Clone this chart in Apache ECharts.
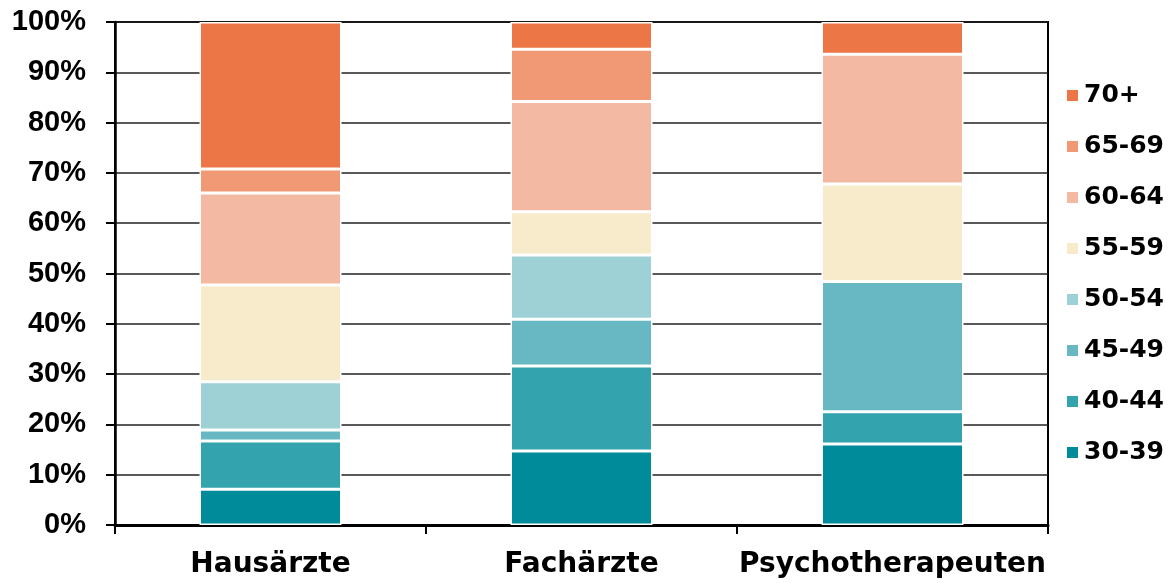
<!DOCTYPE html>
<html>
<head>
<meta charset="utf-8">
<script src="https://cdn.jsdelivr.net/npm/echarts@6/dist/echarts.min.js"></script>
<style>
  html, body { margin: 0; padding: 0; background: #fff; }
  #chart { width: 1171px; height: 583px; }
</style>
</head>
<body>
<div id="chart"></div>
<script>
// Kategorien und Altersgruppen
var categories = ["Hausärzte", "Fachärzte", "Psychotherapeuten"];
var ageGroups = ["30-39", "40-44", "45-49", "50-54", "55-59", "60-64", "65-69", "70+"];
var colors = ["#008B9A", "#33A3AE", "#67B8C2", "#9DD1D6", "#F7EBCC", "#F4B9A2", "#F19875", "#EC7645"];

// Anteile in %, je Altersgruppe: [Hausärzte, Fachärzte, Psychotherapeuten]
var v30_39 = [7.1, 14.7, 16.1];
var v40_44 = [9.6, 16.9, 6.4];
var v45_49 = [2.2, 9.3, 25.9];
var v50_54 = [9.6, 12.8, 0];
var v55_59 = [19.2, 8.6, 19.4];
var v60_64 = [18.3, 21.9, 25.8];
var v65_69 = [4.8, 10.4, 0];
var v70plus = [29.2, 5.4, 6.4];

var values = [v30_39, v40_44, v45_49, v50_54, v55_59, v60_64, v65_69, v70plus];

var series = ageGroups.map(function (name, i) {
  return {
    name: name,
    type: "bar",
    stack: "total",
    barWidth: 142,
    data: values[i],
    itemStyle: {
      color: colors[i],
      borderColor: "#fff",
      borderWidth: 1.5
    }
  };
});

var myChart = echarts.init(document.getElementById("chart"));
myChart.setOption({
  backgroundColor: "#fff",
  animation: false,
  grid: {
    left: 115,
    right: 123,
    top: 22,
    bottom: 58,
    show: true,
    borderColor: "#000",
    borderWidth: 2
  },
  legend: {
    orient: "vertical",
    left: 1060,
    top: 78,
    itemWidth: 13,
    itemHeight: 13,
    itemGap: 26,
    icon: "rect",
    data: ageGroups.slice().reverse(),
    textStyle: {
      fontFamily: "DejaVu Sans",
      fontWeight: "bold",
      fontSize: 25,
      lineHeight: 25,
      color: "#000"
    }
  },
  xAxis: {
    type: "category",
    data: categories,
    axisLine: { lineStyle: { color: "#000", width: 3 } },
    axisTick: { show: true, length: 9, lineStyle: { color: "#000", width: 2 } },
    axisLabel: {
      interval: 0,
      hideOverlap: false,
      margin: 26,
      fontFamily: "DejaVu Sans",
      fontWeight: "bold",
      fontSize: 28,
      color: "#000"
    }
  },
  yAxis: {
    type: "value",
    min: 0,
    max: 100,
    interval: 10,
    axisLine: { show: true, lineStyle: { color: "#000", width: 2.5 } },
    axisTick: { show: true, length: 9, lineStyle: { color: "#000", width: 2 } },
    axisLabel: {
      margin: 29,
      formatter: "{value}%",
      fontFamily: "Liberation Sans",
      fontWeight: "bold",
      fontSize: 29,
      color: "#000"
    },
    splitLine: { lineStyle: { color: "#222", width: 1.5 } }
  },
  series: series
});
</script>
</body>
</html>
